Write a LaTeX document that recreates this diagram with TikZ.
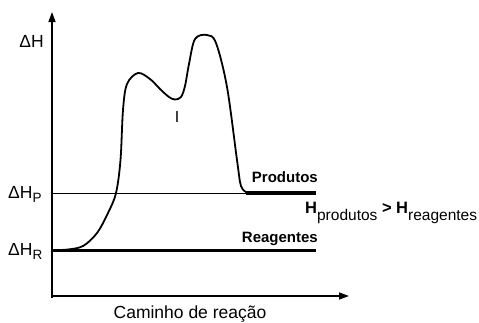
\documentclass[tikz,border=0pt]{standalone}
\usepackage{fontspec}
\setmainfont{Liberation Sans}
\usetikzlibrary{arrows.meta}
\tikzset{
  axisline/.style={line width=1.4pt,-{Triangle[length=10pt,width=7pt]}},
  levelthick/.style={line width=3.6pt},
  levelthin/.style={line width=0.8pt},
  pathcurve/.style={line width=1.8pt,line join=round,line cap=round},
  lbl/.style={inner sep=0pt,font=\fontsize{17.5}{20}\selectfont},
  blbl/.style={inner sep=0pt,font=\fontsize{15}{18}\selectfont\bfseries},
}
\begin{document}
\begin{tikzpicture}[x=1pt,y=-1pt]
\useasboundingbox (0,0) rectangle (479,322);
\coordinate (O) at (52,296);
\coordinate (ybot) at (52,297.5);
\coordinate (ytip) at (52,12);
\coordinate (xtip) at (349,296);
\coordinate (HPa) at (52,193);
\coordinate (HPb) at (246,193);
\coordinate (HPc) at (316,193);
\coordinate (HRa) at (52,250.5);
\coordinate (HRb) at (316,250.5);
% levels
\draw[levelthin] (HPa) -- (HPb);
\draw[levelthick] (HPb) -- (HPc);
\draw[levelthick] (HRa) -- (HRb);
% reaction path
\draw[pathcurve] plot[smooth,tension=0.55] coordinates {
 (52,250) (67,249.6) (83,246) (97,233) (108,213) (116,193) (120.5,160)
 (123,110) (127,84) (138,73) (150,79) (160,89) (169,97) (175,99.5) (181,97)
 (185,86) (189,64) (195,39) (207,35) (216,43) (227,87) (237,160) (241,186) (247,192.5)};
% axes
\draw[axisline] (ybot) -- (ytip);
\draw[axisline] (O) -- (xtip);
% labels
\node[lbl,anchor=base east] (dH) at (44,47) {ΔH};
\node[lbl,anchor=base west] (dHP) at (8,198) {ΔH\raisebox{-4pt}{\fontsize{13.5}{13.5}\selectfont P}};
\node[lbl,anchor=base west] (dHR) at (8,255.5) {ΔH\raisebox{-4pt}{\fontsize{13.5}{13.5}\selectfont R}};
\node[lbl,anchor=base] (xlab) at (190,318.5) {Caminho de reação};
\node[inner sep=0pt,anchor=base,font=\fontsize{16}{18}\selectfont] (inter) at (177,122) {I};
\node[blbl,anchor=base east] (prod) at (318,182) {Produtos};
\node[blbl,anchor=base east] (reag) at (318,242) {Reagentes};
\node[inner sep=0pt,anchor=base west,font=\fontsize{16.5}{18}\selectfont\bfseries] (rel) at (305,213)
  {H\raisebox{-7pt}{\fontsize{15.5}{15.5}\selectfont\mdseries produtos} > H\raisebox{-7pt}{\fontsize{15.5}{15.5}\selectfont\mdseries reagentes}};
\end{tikzpicture}
\end{document}
